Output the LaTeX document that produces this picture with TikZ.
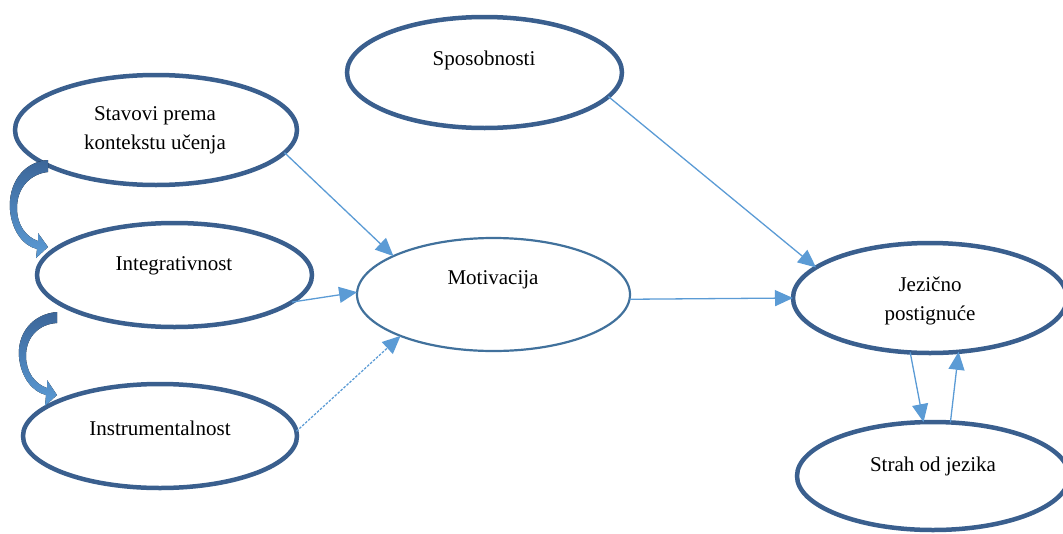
\documentclass[tikz,border=0pt]{standalone}
\usepackage{fontspec}
\setmainfont{Liberation Serif}
\usetikzlibrary{shapes.geometric,arrows.meta}
\definecolor{ellc}{HTML}{3A5F8E}
\definecolor{motc}{HTML}{41719C}
\definecolor{arrc}{HTML}{5B9BD5}
\definecolor{cadark}{HTML}{3C6699}
\definecolor{calight}{HTML}{5B9BD5}
\tikzset{
 oval/.style={ellipse, draw=ellc, line width=4.5pt, inner sep=0pt, outer sep=0pt},
 thinoval/.style={oval, draw=motc, line width=2.2pt},
 lbl/.style={font=\fontsize{21}{29}\selectfont, align=center, inner sep=0pt},
 conn/.style={draw=arrc, line width=1.3pt, -{Triangle[length=18pt,width=16pt]}},
 dashconn/.style={conn, dash pattern=on 2.5pt off 1.5pt},
 bentarrow/.style={top color=cadark, bottom color=calight, draw=none}
}
\begin{document}
\begin{tikzpicture}[x=1pt,y=-1pt]
\useasboundingbox (0,0) rectangle (1063,533);
\clip (0,0) rectangle (1063,533);
% ellipses
\node[oval, minimum width=275pt, minimum height=111pt] (spo) at (484.5,72.5) {};
\node[oval, minimum width=282pt, minimum height=110pt] (sta) at (156,130) {};
\node[oval, minimum width=275pt, minimum height=104pt] (int) at (174.5,275) {};
\node[oval, minimum width=274pt, minimum height=104pt] (ins) at (160,436) {};
\node[thinoval, minimum width=273pt, minimum height=113pt] (mot) at (493.5,294.5) {};
\node[oval, minimum width=274pt, minimum height=110pt] (jez) at (930,298) {};
\node[oval, minimum width=272pt, minimum height=108pt] (str) at (933,476) {};
% labels
\node[lbl] (spoT) at (484,60) {Sposobnosti};
\node[lbl] (staT) at (155,130) {Stavovi prema\\kontekstu učenja};
\node[lbl] (intT) at (174,266) {Integrativnost};
\node[lbl] (insT) at (160,428) {Instrumentalnost};
\node[lbl] (motT) at (493,280) {Motivacija};
\node[lbl] (jezT) at (930,301) {Jezično\\postignuće};
\node[lbl] (strT) at (933,466) {Strah od jezika};
% connectors
\draw[conn] (sta.-10.8) -- (mot.159);
\draw[conn] (int.-13.8) -- (mot.179.4);
\draw[dashconn] (ins.2.5) -- (mot.-156);
\draw[conn] (mot.-2.7) -- (jez.180);
\draw[conn] (spo.-11.3) -- (jez.165.4);
\draw[conn] (jez.-110) -- (str.100);
\draw[conn] (str.72) -- (jez.-62);
% curved block arrows
\fill[bentarrow] (48,160) .. controls (22,162) and (8,185) .. (10,210)
  .. controls (12,232) and (24,246) .. (37,249) -- (36,258) -- (48,247) -- (38,233) -- (38,241)
  .. controls (26,237) and (17,225) .. (17,208)
  .. controls (17,188) and (30,174) .. (48,172) -- cycle;
\fill[bentarrow] (57,312) .. controls (32,314) and (17,334) .. (19,357)
  .. controls (21,378) and (33,392) .. (46,395) -- (45,406) -- (57,395) -- (47,380) -- (47,388)
  .. controls (35,384) and (26,372) .. (26,356)
  .. controls (26,337) and (39,324) .. (57,323) -- cycle;
\end{tikzpicture}
\end{document}
